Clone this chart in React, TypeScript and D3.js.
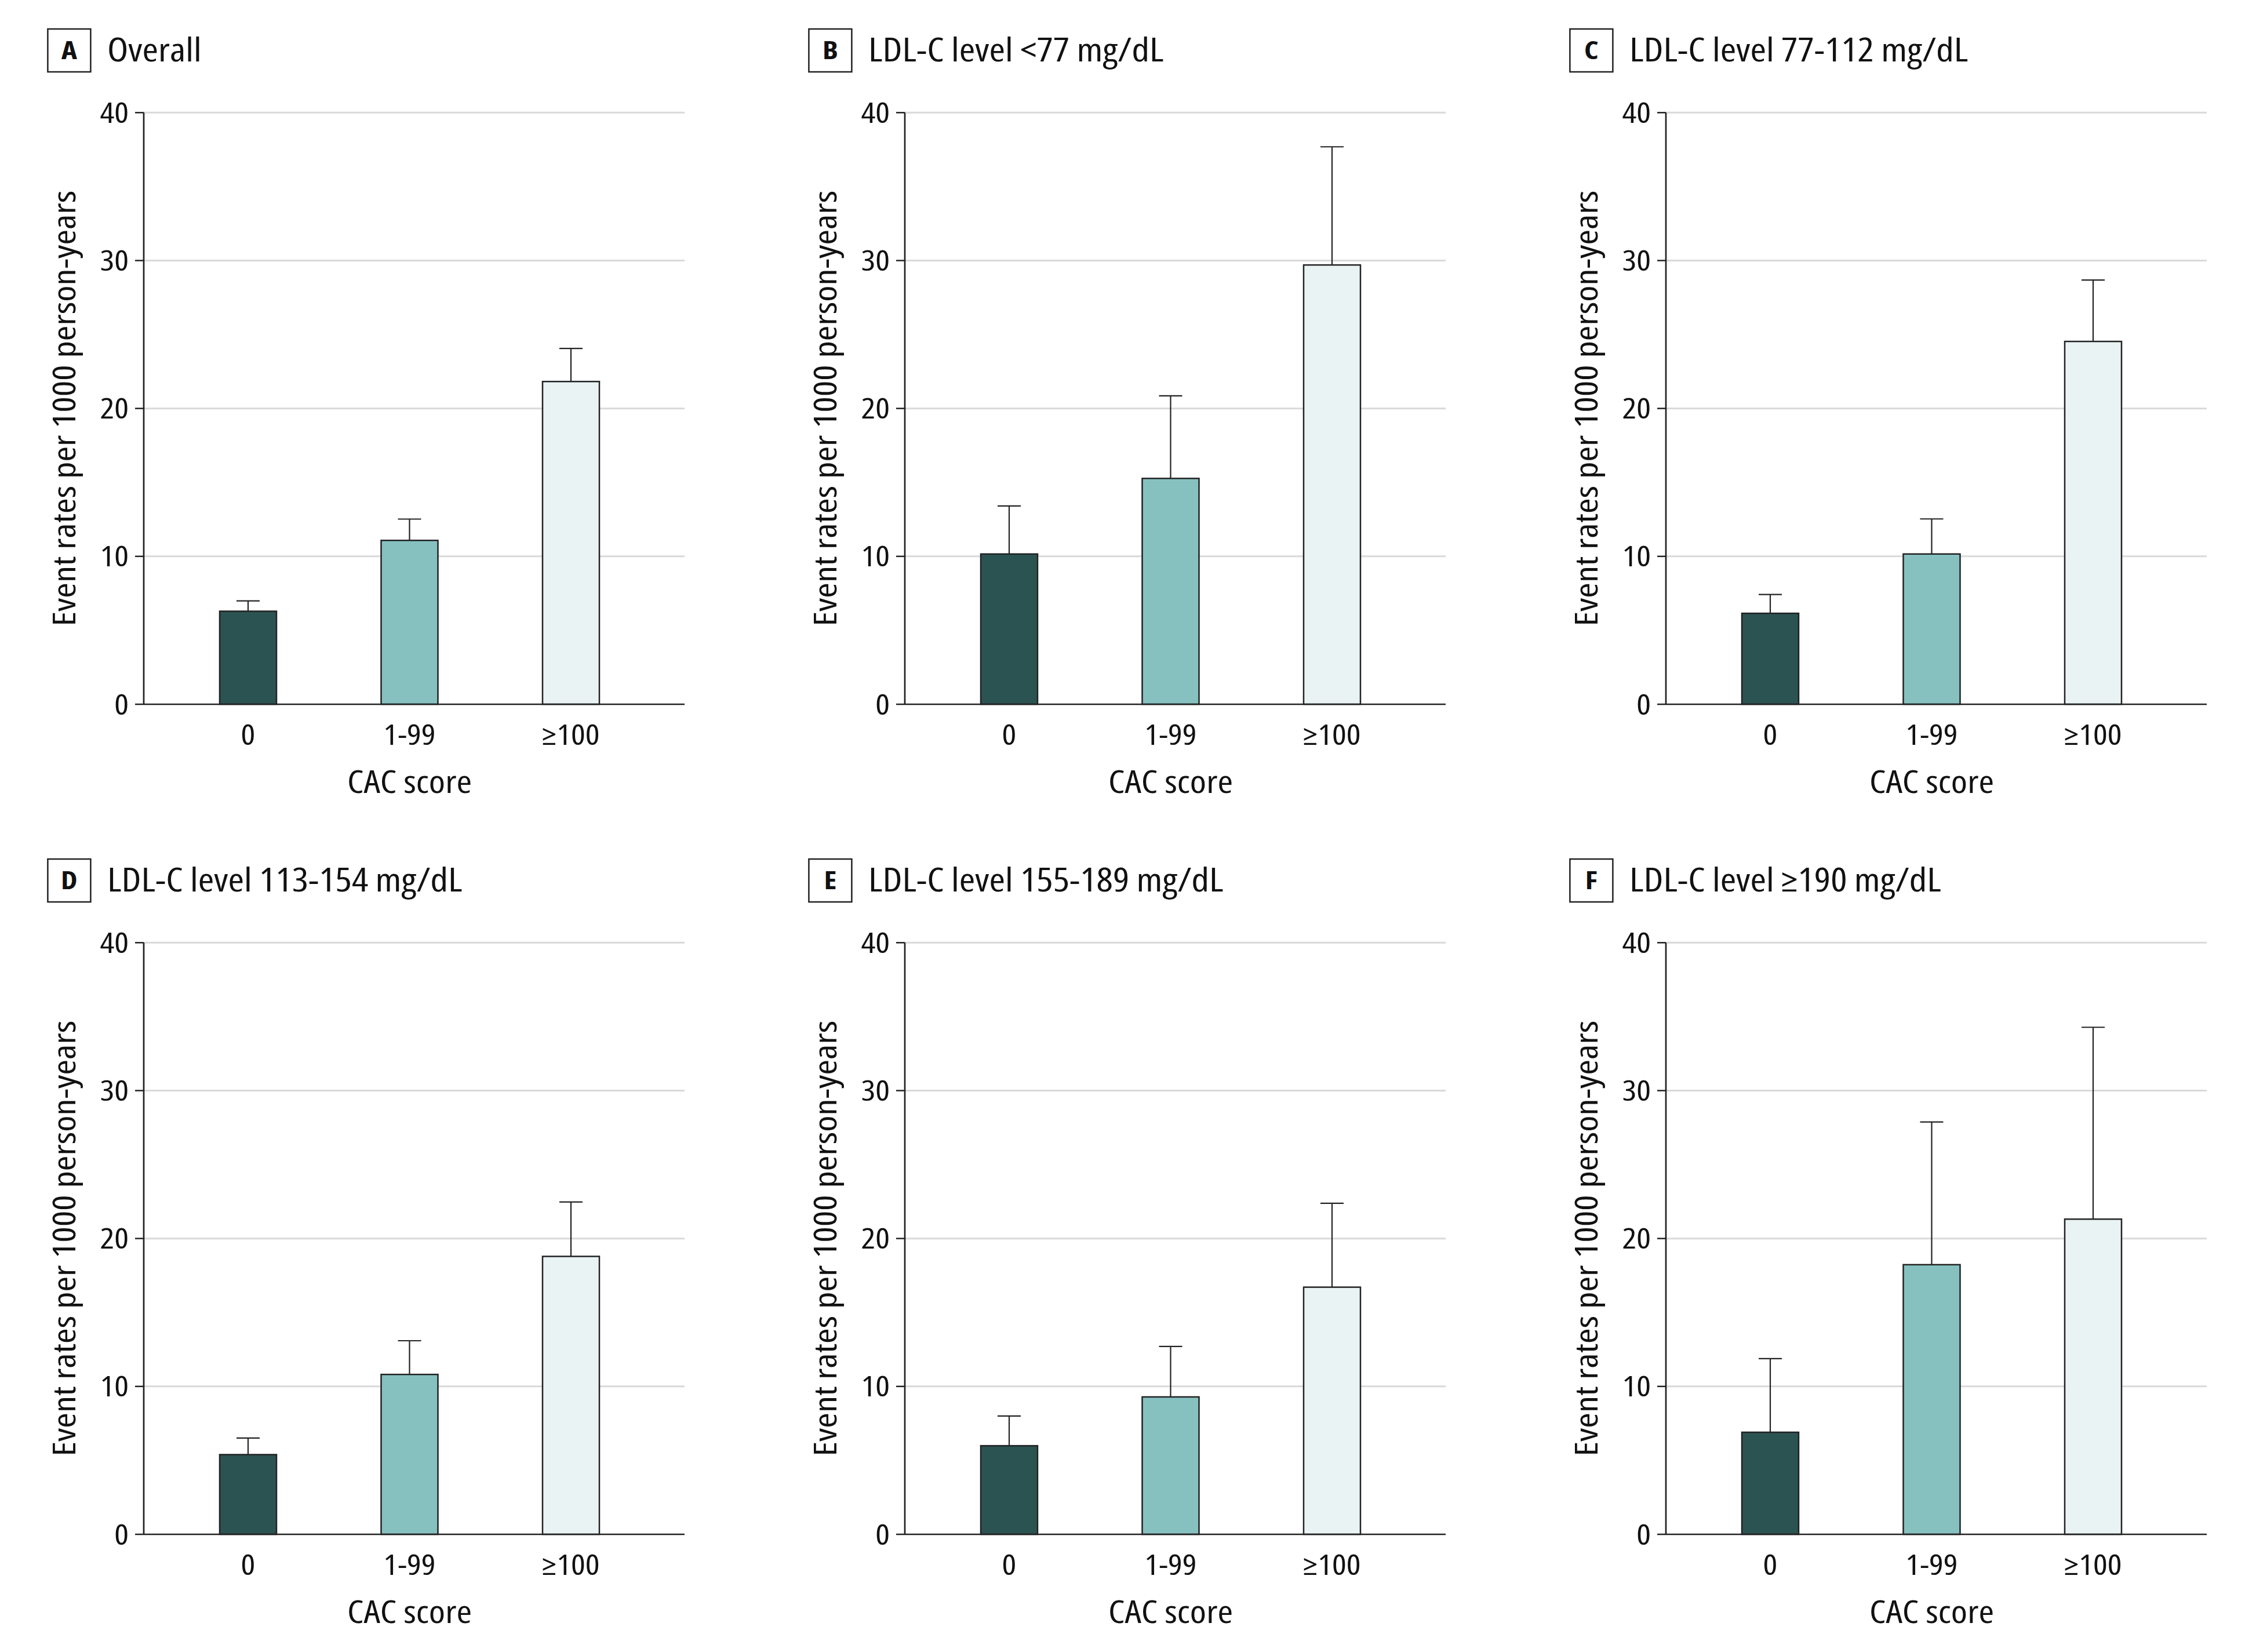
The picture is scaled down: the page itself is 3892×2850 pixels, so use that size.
import React from "react";
import * as d3 from "d3";

const cacCategories = ["0", "1-99", "≥100"];
const panelLetters = ["A", "B", "C", "D", "E", "F"];
const panelTitles = [
  "Overall",
  "LDL-C level <77 mg/dL",
  "LDL-C level 77-112 mg/dL",
  "LDL-C level 113-154 mg/dL",
  "LDL-C level 155-189 mg/dL",
  "LDL-C level ≥190 mg/dL",
];
const eventRates = [
  [6.29, 11.08, 21.82],
  [10.16, 15.27, 29.7],
  [6.15, 10.16, 24.53],
  [5.39, 10.81, 18.79],
  [5.99, 9.29, 16.71],
  [6.9, 18.23, 21.31],
];
const upperCI = [
  [6.99, 12.52, 24.06],
  [13.41, 20.85, 37.69],
  [7.42, 12.53, 28.68],
  [6.51, 13.09, 22.47],
  [8.0, 12.7, 22.38],
  [11.88, 27.88, 34.28],
];
const yTicks = [0, 10, 20, 30, 40];
const barColors = ["#2b5352", "#86c1c0", "#e9f3f4"];
const yLabel = "Event rates per 1000 person-years";
const xLabel = "CAC score";

const W = 3892;
const H = 2850;
const FONT = "'Open Sans', 'Noto Sans', sans-serif";
const SX = 1.19;

function Label({
  x,
  y,
  size,
  anchor = "start",
  weight = 400,
  rotate = 0,
  children,
}: {
  x: number;
  y: number;
  size: number;
  anchor?: string;
  weight?: number;
  rotate?: number;
  children: React.ReactNode;
}) {
  return (
    <g transform={`translate(${x},${y}) rotate(${rotate}) scale(${SX},1)`}>
      <text
        x={0}
        y={0}
        textAnchor={anchor as any}
        fontFamily={FONT}
        fontSize={size}
        fontWeight={weight}
        style={{ fontStretch: "condensed" }}
        fill="#111"
      >
        {children}
      </text>
    </g>
  );
}

function Panel({ idx }: { idx: number }) {
  const col = idx % 3;
  const row = Math.floor(idx / 3);
  const ox = 248 + col * 1313;
  const oy = 194.3 + row * 1432;
  const plotW = 933;
  const plotH = 1020.7;

  const y = d3.scaleLinear().domain([0, 40]).range([oy + plotH, oy]);
  const x = d3
    .scalePoint<string>()
    .domain(cacCategories)
    .range([ox + 180, ox + 737]);
  const barW = 98;
  const capW = 40;
  const y0 = y(0);

  return (
    <g>
      {/* panel title */}
      <rect
        x={ox - 165.6}
        y={oy - 144.3}
        width={74}
        height={74}
        fill="none"
        stroke="#222"
        strokeWidth={2.5}
      />
      <Label x={ox - 165.6 + 37} y={oy - 92} size={43} weight={700} anchor="middle">
        {panelLetters[idx]}
      </Label>
      <Label x={ox - 63} y={oy - 88} size={56}>
        {panelTitles[idx]}
      </Label>

      {/* gridlines */}
      {yTicks
        .filter((t) => t > 0)
        .map((t) => (
          <line
            key={"g" + t}
            x1={ox}
            x2={ox + plotW}
            y1={y(t)}
            y2={y(t)}
            stroke="#d9d9d9"
            strokeWidth={3}
          />
        ))}

      {/* y ticks and labels */}
      {yTicks.map((t) => (
        <g key={"t" + t}>
          <line x1={ox - 15} x2={ox} y1={y(t)} y2={y(t)} stroke="#222" strokeWidth={2.5} />
          <Label x={ox - 26} y={y(t) + 17.5} size={49} anchor="end">
            {t}
          </Label>
        </g>
      ))}

      {/* bars */}
      {cacCategories.map((c, i) => {
        const cx = x(c) as number;
        const top = y(eventRates[idx][i]);
        const up = y(upperCI[idx][i]);
        return (
          <g key={"b" + c}>
            <line x1={cx} x2={cx} y1={top} y2={up} stroke="#222" strokeWidth={2.2} />
            <line
              x1={cx - capW / 2}
              x2={cx + capW / 2}
              y1={up}
              y2={up}
              stroke="#222"
              strokeWidth={2.2}
            />
            <rect
              x={cx - barW / 2}
              y={top}
              width={barW}
              height={y0 - top}
              fill={barColors[i]}
              stroke="#222"
              strokeWidth={2.5}
            />
            <Label x={cx} y={y0 + 70} size={49} anchor="middle">
              {c}
            </Label>
          </g>
        );
      })}

      {/* axes */}
      <line x1={ox} x2={ox} y1={oy} y2={y0} stroke="#222" strokeWidth={2.7} />
      <line x1={ox} x2={ox + plotW} y1={y0} y2={y0} stroke="#222" strokeWidth={2.7} />

      {/* axis titles */}
      <Label x={x(cacCategories[1]) as number} y={y0 + 153} size={54} anchor="middle">
        {xLabel}
      </Label>
      <Label x={ox - 118} y={oy + plotH / 2} size={54} anchor="middle" rotate={-90}>
        {yLabel}
      </Label>
    </g>
  );
}

export default function App() {
  return (
    <svg
      width={W}
      height={H}
      viewBox={`0 0 ${W} ${H}`}
      style={{ position: "absolute", left: 0, top: 0, display: "block", background: "#fff" }}
    >
      <rect x={0} y={0} width={W} height={H} fill="#fff" />
      {panelLetters.map((_, i) => (
        <Panel key={i} idx={i} />
      ))}
    </svg>
  );
}
